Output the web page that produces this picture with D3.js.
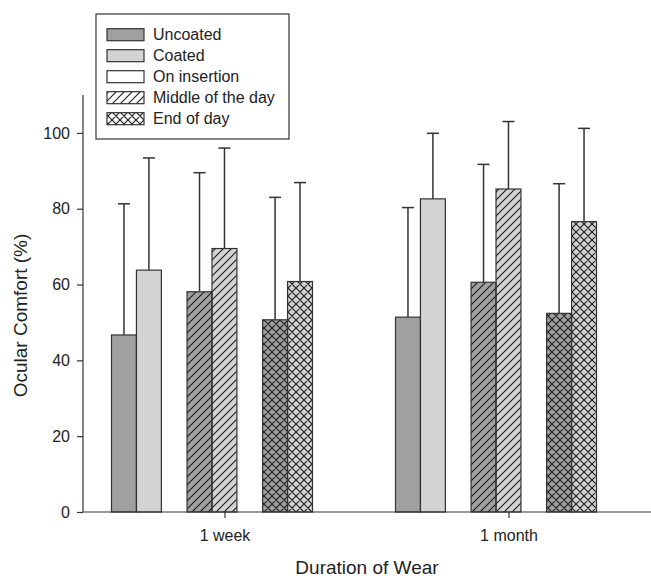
<!DOCTYPE html>
<html>
<head>
<meta charset="utf-8">
<script src="https://cdn.jsdelivr.net/npm/d3@7"></script>
<style>
  body { margin: 0; background: #fff; }
  text { font-family: "Liberation Sans", Arial, sans-serif; fill: #222; }
</style>
</head>
<body>
<div id="chart"></div>
<script>
// values
const categories = ["1 week", "1 month"];
const periods = ["On insertion", "Middle of the day", "End of day"];
const coatings = ["Uncoated", "Coated"];
const uncoatedMean = [[46.7, 58.1, 50.7], [51.4, 60.6, 52.4]];
const uncoatedSD   = [[34.6, 31.4, 32.3], [28.9, 31.1, 34.2]];
const coatedMean   = [[63.8, 69.5, 60.8], [82.6, 85.2, 76.6]];
const coatedSD     = [[29.6, 26.5, 26.1], [17.3, 17.8, 24.6]];
const yTicks = [0, 20, 40, 60, 80, 100];

const W = 651, H = 579;
const plotL = 83, plotR = 651, plotT = 95, plotB = 512;
const fills = { Uncoated: "#a0a0a0", Coated: "#d3d3d3" };
const patternOf = { "On insertion": null, "Middle of the day": "hatch", "End of day": "cross" };

const svg = d3.select("#chart").append("svg")
  .attr("width", W).attr("height", H);

const defs = svg.append("defs");
defs.append("pattern").attr("id", "hatch")
  .attr("patternUnits", "userSpaceOnUse").attr("width", 8).attr("height", 8)
  .append("path").attr("d", "M-2,2 L2,-2 M0,8 L8,0 M6,10 L10,6")
  .attr("stroke", "#1a1a1a").attr("stroke-width", 1.1);
const cross = defs.append("pattern").attr("id", "cross")
  .attr("patternUnits", "userSpaceOnUse").attr("width", 8).attr("height", 8);
cross.append("path").attr("d", "M-2,2 L2,-2 M0,8 L8,0 M6,10 L10,6 M-2,6 L2,10 M0,0 L8,8 M6,-2 L10,2")
  .attr("stroke", "#1a1a1a").attr("stroke-width", 1.1);

const x0 = d3.scaleBand().domain(categories).range([plotL, plotR]);
const x1 = d3.scaleBand().domain(periods).range([28.5, 229.5]).paddingInner(0.34);
const x2 = d3.scaleBand().domain(coatings).range([0, x1.bandwidth()]);
const y = d3.scaleLinear().domain([0, 110]).range([plotB, plotT]);

// flatten data
const bars = [];
categories.forEach((c, ci) => {
  periods.forEach((p, pi) => {
    bars.push({ c, p, coat: "Uncoated", v: uncoatedMean[ci][pi], sd: uncoatedSD[ci][pi] });
    bars.push({ c, p, coat: "Coated", v: coatedMean[ci][pi], sd: coatedSD[ci][pi] });
  });
});
const bx = d => x0(d.c) + x1(d.p) + x2(d.coat);
const bw = x2.bandwidth();

// error bars (upper only)
const err = svg.append("g").attr("stroke", "#333").attr("stroke-width", 1.5);
bars.forEach(d => {
  const cx = bx(d) + bw / 2;
  err.append("line").attr("x1", cx).attr("x2", cx).attr("y1", y(d.v)).attr("y2", y(d.v + d.sd));
  err.append("line").attr("x1", cx - 6).attr("x2", cx + 6).attr("y1", y(d.v + d.sd)).attr("y2", y(d.v + d.sd));
});

const g = svg.append("g");
g.selectAll("rect.base").data(bars).enter().append("rect")
  .attr("x", bx).attr("y", d => y(d.v)).attr("width", bw).attr("height", d => y(0) - y(d.v))
  .attr("fill", d => fills[d.coat]);
g.selectAll("rect.pat").data(bars.filter(d => patternOf[d.p])).enter().append("rect")
  .attr("x", bx).attr("y", d => y(d.v)).attr("width", bw).attr("height", d => y(0) - y(d.v))
  .attr("fill", d => `url(#${patternOf[d.p]})`);
g.selectAll("rect.edge").data(bars).enter().append("rect")
  .attr("x", bx).attr("y", d => y(d.v)).attr("width", bw).attr("height", d => y(0) - y(d.v))
  .attr("fill", "none").attr("stroke", "#333").attr("stroke-width", 1.2);

// axes
const yAxis = svg.append("g").attr("transform", `translate(${plotL},0)`)
  .call(d3.axisLeft(y).tickValues(yTicks).tickSize(6).tickPadding(7).tickSizeOuter(0));
const xAxis = svg.append("g").attr("transform", `translate(0,${plotB})`)
  .call(d3.axisBottom(x0).tickSize(6).tickPadding(12).tickSizeOuter(0));
[yAxis, xAxis].forEach(a => {
  a.select(".domain").attr("stroke", "#333").attr("stroke-width", 1.2);
  a.selectAll(".tick line").attr("stroke", "#333").attr("stroke-width", 1.2);
  a.selectAll("text").attr("font-size", 16).attr("fill", "#222")
    .attr("font-family", "'Liberation Sans', Arial, sans-serif");
});
yAxis.select(".domain").attr("d", `M0,${y(0)}V${plotT}`);
xAxis.select(".domain").attr("d", `M${plotL},0H${plotR}`);

svg.append("text").attr("x", (plotL + plotR) / 2).attr("y", 574)
  .attr("text-anchor", "middle").attr("font-size", 19).text("Duration of Wear");
svg.append("text").attr("transform", `translate(27,${(plotT + plotB) / 2 + 12}) rotate(-90)`)
  .attr("text-anchor", "middle").attr("font-size", 19).text("Ocular Comfort (%)");

// legend
const legendItems = [
  { label: "Uncoated", fill: fills.Uncoated, pat: null },
  { label: "Coated", fill: fills.Coated, pat: null },
  { label: "On insertion", fill: "#fff", pat: null },
  { label: "Middle of the day", fill: "#fff", pat: "hatch" },
  { label: "End of day", fill: "#fff", pat: "cross" }
];
const lg = svg.append("g");
lg.append("rect").attr("x", 96).attr("y", 14).attr("width", 193).attr("height", 125)
  .attr("fill", "#fff").attr("stroke", "#333").attr("stroke-width", 1.2);
legendItems.forEach((d, i) => {
  const cy = 34.7 + i * 21;
  lg.append("rect").attr("x", 107).attr("y", cy - 6).attr("width", 37).attr("height", 12)
    .attr("fill", d.fill);
  if (d.pat) lg.append("rect").attr("x", 107).attr("y", cy - 6).attr("width", 37).attr("height", 12)
    .attr("fill", `url(#${d.pat})`);
  lg.append("rect").attr("x", 107).attr("y", cy - 6).attr("width", 37).attr("height", 12)
    .attr("fill", "none").attr("stroke", "#333").attr("stroke-width", 1.2);
  lg.append("text").attr("x", 153).attr("y", cy).attr("dy", "0.36em")
    .attr("font-size", 16).text(d.label);
});
</script>
</body>
</html>
